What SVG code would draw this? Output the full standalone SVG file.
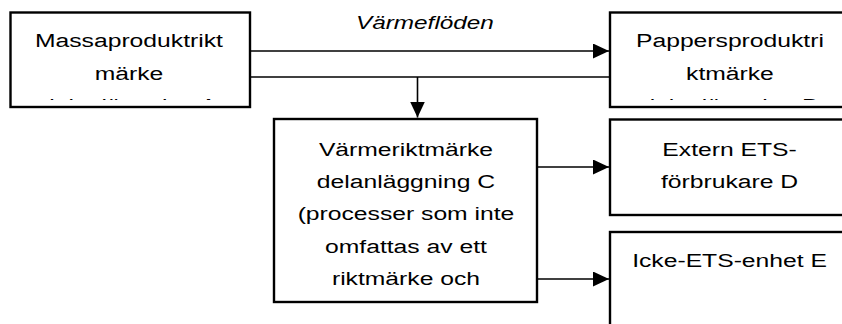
<svg xmlns="http://www.w3.org/2000/svg" width="842" height="324" viewBox="0 0 842 324">
<style>
.box{fill:#fff;stroke:#000;stroke-width:2.4}
.conn{fill:none;stroke:#000;stroke-width:1.6}
.t{font-family:"Liberation Sans",Arial,sans-serif;font-size:19px;fill:#000;text-anchor:middle}
.it{font-style:italic}
</style>
<defs>
<marker id="arr" markerUnits="userSpaceOnUse" markerWidth="16" markerHeight="15" refX="16" refY="7.5" orient="auto">
<path d="M0,0 L16,7.5 L0,15 Z" fill="#000"/>
</marker>
<clipPath id="clipA"><rect x="12" y="14" width="236" height="86"/></clipPath>
<clipPath id="clipB"><rect x="612" y="14" width="236" height="86"/></clipPath>
</defs>
<g id="connectors">
<line class="conn" x1="250" y1="51" x2="609" y2="51" marker-end="url(#arr)"/>
<line class="conn" x1="250" y1="77" x2="610" y2="77"/>
<line class="conn" x1="417.5" y1="77" x2="417.5" y2="117.5" marker-end="url(#arr)"/>
<line class="conn" x1="537" y1="167" x2="609" y2="167" marker-end="url(#arr)"/>
<line class="conn" x1="537" y1="279" x2="609" y2="279" marker-end="url(#arr)"/>
</g>
<g id="label-flow">
<text class="t it" transform="scale(1.28,1)" x="332" y="29">Värmeflöden</text>
</g>
<g id="nodeA">
<rect class="box" x="10.5" y="12.5" width="239.5" height="94.5"/>
<g clip-path="url(#clipA)">
<g transform="scale(1.3,1)">
<text class="t" x="99.2" y="47">Massaproduktrikt</text>
<text class="t" x="99.2" y="80">märke</text>
<text class="t" x="99.2" y="112.5">delanläggning A</text>
</g>
</g>
</g>
<g id="nodeB">
<rect class="box" x="610" y="12.5" width="260" height="94.5"/>
<g clip-path="url(#clipB)">
<g transform="scale(1.3,1)">
<text class="t" x="561.5" y="47">Pappersproduktri</text>
<text class="t" x="561.5" y="80">ktmärke</text>
<text class="t" x="561.5" y="112.5">delanläggning B</text>
</g>
</g>
</g>
<g id="nodeC">
<rect class="box" x="274" y="119" width="263" height="183"/>
<g transform="scale(1.3,1)">
<text class="t" x="312.3" y="156">Värmeriktmärke</text>
<text class="t" x="312.3" y="188">delanläggning C</text>
<text class="t" x="312.3" y="220.5">(processer som inte</text>
<text class="t" x="312.3" y="253">omfattas av ett</text>
<text class="t" x="312.3" y="285">riktmärke och</text>
</g>
</g>
<g id="nodeD">
<rect class="box" x="610" y="119.5" width="260" height="95.5"/>
<g transform="scale(1.3,1)">
<text class="t" x="561.2" y="156">Extern ETS-</text>
<text class="t" x="561.2" y="188">förbrukare D</text>
</g>
</g>
<g id="nodeE">
<rect class="box" x="610" y="232" width="260" height="120"/>
<g transform="scale(1.3,1)">
<text class="t" x="561.2" y="267">Icke-ETS-enhet E</text>
</g>
</g>
</svg>
